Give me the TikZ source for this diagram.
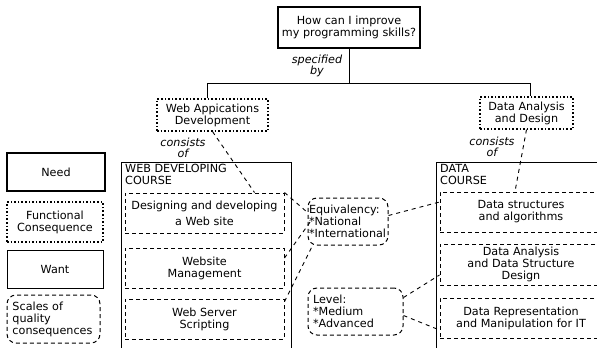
\documentclass[tikz,border=0pt]{standalone}
\usepackage{fontspec}
\setmainfont{DejaVu Sans}
\begin{document}
\begin{tikzpicture}[x=1pt,y=-1pt,
  every node/.style={font=\fontsize{11.2}{12}\selectfont, align=center, inner sep=0pt},
  needbox/.style={draw, line width=1.6pt, minimum width=#1},
  funcbox/.style={draw, line width=1.1pt, dash pattern=on 1.6pt off 2pt},
  wantbox/.style={draw, line width=0.8pt},
  scalebox/.style={draw, line width=1pt, dash pattern=on 4pt off 3pt, rounded corners=9pt, align=left},
  itembox/.style={draw, line width=1pt, dash pattern=on 4pt off 3pt},
  coursebox/.style={draw, line width=0.9pt},
  rel/.style={font=\itshape\fontsize{11.2}{11.5}\selectfont},
  link/.style={line width=0.9pt, dash pattern=on 4pt off 4pt},
  tree/.style={line width=0.9pt}
]
\useasboundingbox (0,0) rectangle (597,348);
\clip (0,0) rectangle (597,348);

% legend
\node[needbox=98pt, minimum height=38pt] (lneed) at (56,172) {Need};
\node[funcbox, minimum width=96pt, minimum height=40pt] (lfunc) at (55,222) {Functional\\Consequence};
\node[wantbox, minimum width=96pt, minimum height=38pt] (lwant) at (55,269) {Want};
\node[scalebox, minimum width=93pt, minimum height=48pt, text width=82pt] (lscale) at (53.5,319) {Scales of\\quality\\consequences};

% root question and its two functional consequences
\node[needbox=142pt, minimum height=41pt] (root) at (349,27.5) {How can I improve\\my programming skills?};
\node[funcbox, minimum width=111pt, minimum height=32pt] (webapps) at (212.5,115) {Web Appications\\Development};
\node[funcbox, minimum width=93pt, minimum height=32pt] (dataan) at (526.5,113) {Data Analysis\\and Design};

\coordinate (jl) at (207,83);
\coordinate (jr) at (530,83);
\draw[tree] (root.south) -- (root.south |- jl);
\draw[tree] (webapps.north -| jl) -- (jl) -- (jr) -- (dataan.north -| jr);

\node[rel] (spec) at (317,66) {specified\\by};
\node[rel] (cons1) at (183,148) {consists\\of};
\node[rel] (cons2) at (492,147) {consists\\of};

% the two courses
\node[coursebox, minimum width=170pt, minimum height=200pt] (webcourse) at (206,262) {};
\node[anchor=north west, align=left] (weblabel) at (125,164) {WEB DEVELOPING\\COURSE};
\node[coursebox, minimum width=176pt, minimum height=200pt] (datacourse) at (524,262) {};
\node[anchor=north west, align=left] (datalabel) at (440,164) {DATA\\COURSE};

\node[itembox, minimum width=159pt, minimum height=40pt] (design) at (204.5,213) {Designing and developing\\[4pt]a Web site};
\node[itembox, minimum width=159pt, minimum height=40pt] (manage) at (204.5,268) {Website\\Management};
\node[itembox, minimum width=159pt, minimum height=40pt] (script) at (204.5,319) {Web Server\\Scripting};

\node[itembox, minimum width=162pt, minimum height=40pt] (dstruct) at (521,212) {Data structures\\and algorithms};
\node[itembox, minimum width=162pt, minimum height=41pt] (danal) at (521,264.5) {Data Analysis\\and Data Structure\\Design};
\node[itembox, minimum width=162pt, minimum height=40pt] (drep) at (521,318) {Data Representation\\and Manipulation for IT};

% scales of quality
\node[scalebox, minimum width=80pt, minimum height=47pt, text width=78pt] (equiv) at (348,221.5) {Equivalency:\\{*}National\\{*}International};
\node[scalebox, minimum width=95pt, minimum height=47pt, text width=85pt] (level) at (355.5,311.5) {Level:\\{*}Medium\\{*}Advanced};

% links
\draw[link] (webapps.south) -- ([xshift=50pt]design.north);
\draw[link] (dataan.south) -- ([xshift=-6pt]dstruct.north);
\draw[link] (design.north east) -- ([yshift=9pt]equiv.west);
\draw[link] ([yshift=10pt]manage.east) -- ([xshift=3pt]equiv.west);
\draw[link] ([yshift=-3pt]script.north east) -- ([xshift=5pt]equiv.south west);
\draw[link] ([yshift=6pt]equiv.east) -- ([yshift=10pt]dstruct.west);
\draw[link] ([yshift=14pt]level.east) -- ([yshift=-10.5pt]danal.west);
\draw[link] ([yshift=-4pt]level.east) -- ([yshift=-12pt]drep.west);
\end{tikzpicture}
\end{document}
